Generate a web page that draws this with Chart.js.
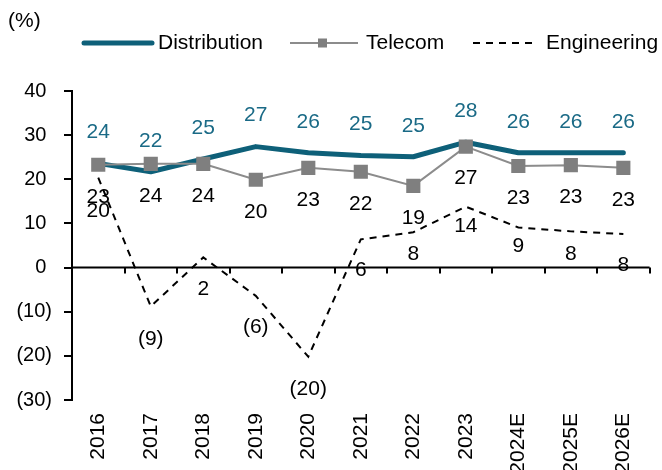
<!DOCTYPE html>
<html>
<head>
<meta charset="utf-8">
<script src="https://cdn.jsdelivr.net/npm/chart.js@4"></script>
<style>
  html, body { margin: 0; padding: 0; background: #fff; overflow: hidden; }
  #wrap { width: 662px; height: 475px; position: relative; }
</style>
</head>
<body>
<div id="wrap"><canvas id="chart"></canvas></div>
<script>
// categories and series
const years = ['2016', '2017', '2018', '2019', '2020', '2021', '2022', '2023', '2024E', '2025E', '2026E'];
const distribution = [23.6, 21.7, 24.6, 27.4, 26.0, 25.4, 25.1, 28.4, 26.0, 26.0, 26.0];
const telecom = [23.3, 23.5, 23.5, 19.9, 22.6, 21.7, 18.5, 27.4, 23.0, 23.2, 22.6];
const engineering = [20.4, -8.8, 2.3, -6.4, -20.2, 6.4, 8.0, 13.8, 9.1, 8.2, 7.6];
const yTickValues = [-30, -20, -10, 0, 10, 20, 30, 40];

const FONT = '"Liberation Sans", Arial, sans-serif';
const TEAL = '#0E6079';
const TEAL_TEXT = '#1A6A86';
const GREY = '#8C8C8C';
const GREY_MARK = '#7F7F7F';

// negatives in brackets, like the source
function fmt(v) {
    const r = Math.round(v);
    return r < 0 ? '(' + Math.abs(r) + ')' : String(r);
}

// value labels next to each point
const pointLabels = {
    id: 'pointLabels',
    afterDatasetsDraw(chart) {
        const ctx = chart.ctx;
        ctx.save();
        ctx.font = '21px ' + FONT;
        ctx.textAlign = 'center';
        ctx.textBaseline = 'middle';
        chart.data.datasets.forEach((ds, i) => {
            const meta = chart.getDatasetMeta(i);
            ctx.fillStyle = ds.labelColor;
            meta.data.forEach((pt, j) => {
                const off = Array.isArray(ds.labelOffset) ? ds.labelOffset[j] : ds.labelOffset;
                ctx.fillText(fmt(ds.data[j]), pt.x, pt.y + off);
            });
        });
        ctx.restore();
    }
};

// horizontal axis line at zero with category tick marks
const zeroAxis = {
    id: 'zeroAxis',
    beforeDatasetsDraw(chart) {
        const { ctx, chartArea, scales } = chart;
        const y0 = scales.y.getPixelForValue(0);
        const step = scales.x.getPixelForValue(1) - scales.x.getPixelForValue(0);
        ctx.save();
        ctx.strokeStyle = '#000';
        ctx.lineWidth = 2;
        ctx.beginPath();
        ctx.moveTo(chartArea.left, y0);
        ctx.lineTo(chartArea.right, y0);
        for (let i = 1; i <= years.length; i++) {
            const x = Math.round(scales.x.getPixelForValue(i) - step / 2);
            ctx.moveTo(x, y0);
            ctx.lineTo(x, y0 + 6);
        }
        ctx.stroke();
        ctx.restore();
    }
};

// unit label and legend drawn by hand
const header = {
    id: 'header',
    afterDraw(chart) {
        const ctx = chart.ctx;
        const y = 43;
        ctx.save();
        ctx.font = '21px ' + FONT;
        ctx.fillStyle = '#000';
        ctx.textBaseline = 'middle';
        ctx.textAlign = 'left';
        ctx.fillText('(%)', 8, 21);

        // Distribution
        ctx.strokeStyle = TEAL;
        ctx.lineWidth = 5;
        ctx.lineCap = 'round';
        ctx.beginPath();
        ctx.moveTo(84, y);
        ctx.lineTo(152, y);
        ctx.stroke();
        ctx.fillText('Distribution', 158, y);

        // Telecom
        ctx.strokeStyle = GREY;
        ctx.lineWidth = 2;
        ctx.lineCap = 'butt';
        ctx.beginPath();
        ctx.moveTo(290, y);
        ctx.lineTo(358, y);
        ctx.stroke();
        ctx.fillStyle = GREY_MARK;
        ctx.fillRect(318, y - 4.5, 9, 9);
        ctx.fillStyle = '#000';
        ctx.fillText('Telecom', 366, y);

        // Engineering
        ctx.strokeStyle = '#000';
        ctx.setLineDash([7, 6]);
        ctx.beginPath();
        ctx.moveTo(473, y);
        ctx.lineTo(536, y);
        ctx.stroke();
        ctx.setLineDash([]);
        ctx.fillText('Engineering', 546, y);
        ctx.restore();
    }
};

function start() {
    Chart.defaults.font.family = FONT;
    Chart.defaults.color = '#000';

    new Chart(document.getElementById('chart'), {
        type: 'line',
        data: {
            labels: years,
            datasets: [{
                label: 'Distribution',
                data: distribution,
                borderColor: TEAL,
                backgroundColor: TEAL,
                borderWidth: 5,
                borderJoinStyle: 'round',
                borderCapStyle: 'round',
                pointRadius: 0,
                tension: 0,
                order: 1,
                labelColor: TEAL_TEXT,
                labelOffset: -31
            },
            {
                label: 'Telecom',
                data: telecom,
                borderColor: GREY,
                backgroundColor: GREY_MARK,
                borderWidth: 2,
                pointStyle: 'rect',
                pointRadius: 10,
                pointBorderWidth: 0,
                pointBackgroundColor: GREY_MARK,
                tension: 0,
                order: 0,
                labelColor: '#000',
                labelOffset: 32
            },
            {
                label: 'Engineering',
                data: engineering,
                borderColor: '#000',
                borderWidth: 2,
                borderDash: [7, 6],
                pointRadius: 0,
                tension: 0,
                order: 2,
                labelColor: '#000',
                labelOffset: [34, 33, 32, 31, 32, 31, 22, 20, 19, 23, 31]
            }]
        },
        options: {
            responsive: true,
            maintainAspectRatio: false,
            animation: false,
            layout: {
                padding: { top: 91, right: 3, left: 0, bottom: 0 }
            },
            scales: {
                x: {
                    offset: true,
                    afterFit(scale) { scale.height = 75; },
                    grid: { display: false, drawTicks: false },
                    border: { display: false },
                    ticks: {
                        font: { size: 21 },
                        color: '#000',
                        padding: 13,
                        minRotation: 90,
                        maxRotation: 90,
                        autoSkip: false
                    }
                },
                y: {
                    min: -30,
                    max: 40,
                    afterFit(scale) { scale.width = 72; },
                    afterBuildTicks(scale) {
                        scale.ticks = yTickValues.map(v => ({ value: v }));
                    },
                    grid: {
                        drawOnChartArea: false,
                        color: '#000',
                        lineWidth: 2,
                        tickLength: 8
                    },
                    border: { display: true, color: '#000', width: 2 },
                    ticks: {
                        font: { size: 20 },
                        color: '#000',
                        padding: 12,
                        callback: (v) => v < 0 ? '(' + Math.abs(v) + ')' : v + ' '
                    }
                }
            },
            plugins: {
                legend: { display: false },
                tooltip: { enabled: false }
            }
        },
        plugins: [zeroAxis, pointLabels, header]
    });
}

window.onload = start;
</script>
</body>
</html>
